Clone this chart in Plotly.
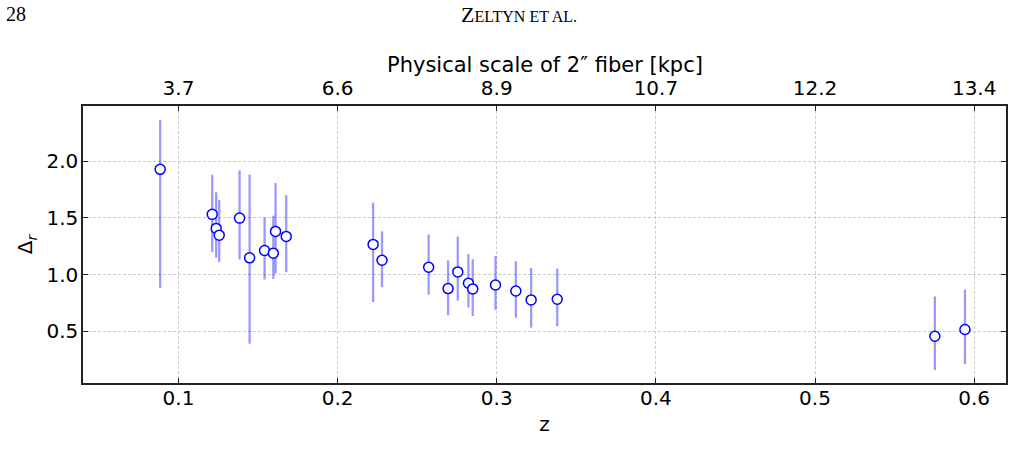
import plotly.graph_objects as go

# Redshift of each galaxy
z = [0.0885, 0.1212, 0.1237, 0.1256, 0.1384, 0.1447, 0.1541, 0.1596, 0.1610, 0.1677,
     0.2223, 0.2279, 0.2572, 0.2694, 0.2755, 0.2822, 0.2849, 0.2992, 0.3120, 0.3216,
     0.3380, 0.5753, 0.5942]
# Delta_r values
delta_r = [1.927, 1.530, 1.406, 1.347, 1.497, 1.147, 1.212, 1.188, 1.380, 1.336,
           1.265, 1.126, 1.064, 0.876, 1.023, 0.923, 0.873, 0.908, 0.855, 0.776,
           0.782, 0.456, 0.515]
# Upper and lower ends of error bars
err_top = [2.362, 1.880, 1.724, 1.656, 1.918, 1.880, 1.503, 1.518, 1.806, 1.700,
           1.632, 1.380, 1.353, 1.124, 1.335, 1.180, 1.135, 1.164, 1.117, 1.058,
           1.053, 0.807, 0.866]
err_bot = [0.882, 1.200, 1.150, 1.110, 1.132, 0.390, 0.956, 0.961, 1.010, 1.020,
           0.758, 0.888, 0.823, 0.641, 0.770, 0.709, 0.635, 0.690, 0.620, 0.532,
           0.544, 0.159, 0.210]

# Axis ticks
z_ticks = [0.1, 0.2, 0.3, 0.4, 0.5, 0.6]
kpc_labels = ["3.7", "6.6", "8.9", "10.7", "12.2", "13.4"]
y_ticks = [0.5, 1.0, 1.5, 2.0]

plus = [t - d for t, d in zip(err_top, delta_r)]
minus = [d - b for d, b in zip(delta_r, err_bot)]

FONT = "DejaVu Sans"
fig = go.Figure()
fig.add_trace(go.Scatter(
    x=z, y=delta_r, mode="markers",
    marker=dict(size=10, color="white", line=dict(color="#0000ff", width=1.5)),
    error_y=dict(type="data", symmetric=False, array=plus, arrayminus=minus,
                 color="rgba(0,0,255,0.4)", thickness=2.3, width=0),
    showlegend=False,
))
# invisible traces to attach the top and right axes
fig.add_trace(go.Scatter(x=[z[0]], y=[delta_r[0]], xaxis="x2", mode="markers",
                         marker=dict(opacity=0), showlegend=False, hoverinfo="skip"))
fig.add_trace(go.Scatter(x=[z[0]], y=[delta_r[0]], yaxis="y2", mode="markers",
                         marker=dict(opacity=0), showlegend=False, hoverinfo="skip"))

axis_common = dict(showline=True, linecolor="#222", linewidth=1.5, mirror=False,
                   ticks="inside", ticklen=5, tickwidth=1.3, tickcolor="#222",
                   zeroline=False, tickfont=dict(family=FONT, size=20, color="black"))
grid = dict(showgrid=True, gridcolor="#cccccc", gridwidth=0.8, griddash="3px,2px")

fig.update_layout(
    width=1014, height=469,
    margin=dict(l=83, r=8, t=106, b=86),
    paper_bgcolor="white", plot_bgcolor="white",
    xaxis=dict(range=[0.04, 0.62], tickvals=z_ticks, ticktext=[str(t) for t in z_ticks],
               title=dict(text="z", font=dict(family=FONT, size=20, color="black"), standoff=8),
               ticklabelstandoff=-4, **axis_common, **grid),
    xaxis2=dict(range=[0.04, 0.62], overlaying="x", side="top", matches="x",
                tickvals=z_ticks, ticktext=kpc_labels, showgrid=False,
                ticklabelstandoff=1, **axis_common),
    yaxis=dict(range=[0.044, 2.485], tickvals=y_ticks, ticktext=[f"{v:.1f}" for v in y_ticks],
               title=dict(text="Δ<sub><i>r</i></sub>", font=dict(family=FONT, size=20, color="black"),
                          standoff=8),
               ticklabelstandoff=-1, **axis_common, **grid),
    yaxis2=dict(overlaying="y", side="right", matches="y", tickvals=y_ticks, showticklabels=False,
                showline=True, linecolor="#222", linewidth=1.5, ticks="inside", ticklen=5,
                tickwidth=1.3, tickcolor="#222", showgrid=False, zeroline=False,
                range=[0.044, 2.485]),
)

fig.add_annotation(text="Physical scale of 2″ fiber [kpc]", xref="paper", yref="paper",
                   x=0.5005, y=1.148, xanchor="center", yanchor="middle", showarrow=False,
                   font=dict(family=FONT, size=21, color="black"))
fig.add_annotation(text="28", xref="paper", yref="paper", x=-0.0856, y=1.332,
                   xanchor="left", yanchor="middle", showarrow=False,
                   font=dict(family="Liberation Serif", size=20, color="black"))
fig.add_annotation(text="Z<span style='font-size:16px'>ELTYN ET AL.</span>",
                   xref="paper", yref="paper", x=0.4724, y=1.332,
                   xanchor="center", yanchor="middle", showarrow=False,
                   font=dict(family="Liberation Serif", size=22, color="black"))

fig.write_html("out.html")
